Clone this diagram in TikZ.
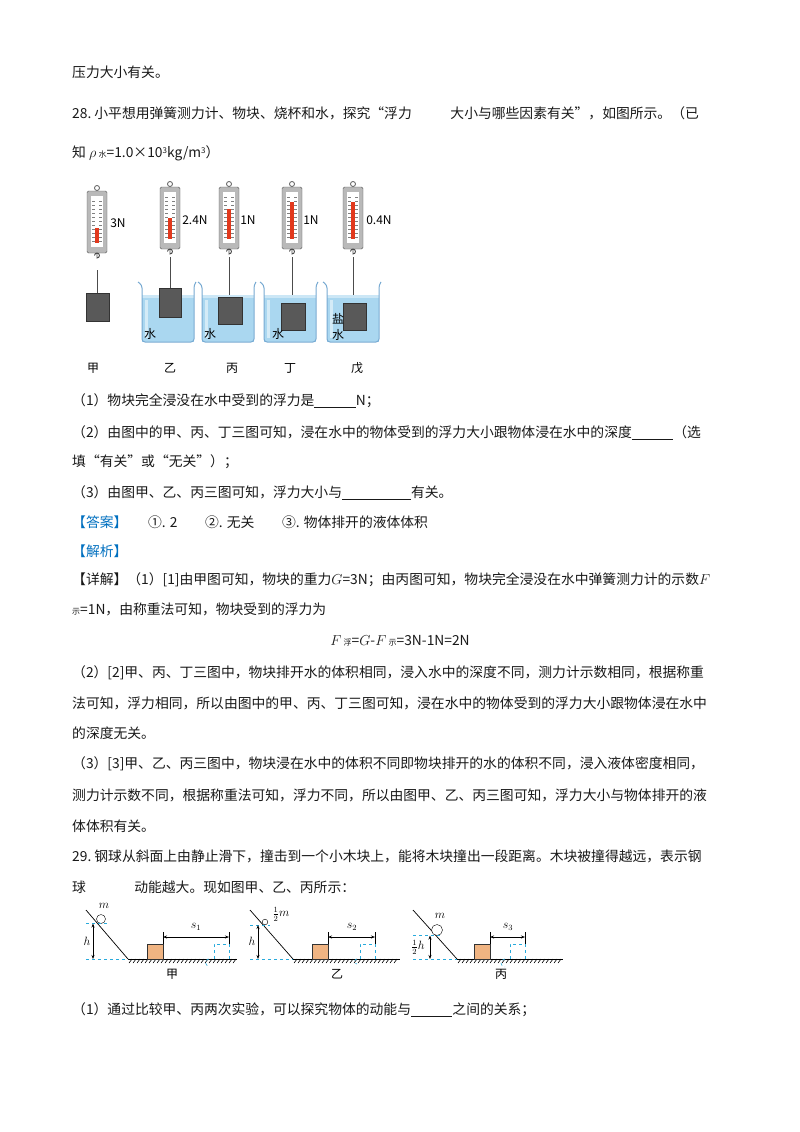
\documentclass[tikz,border=0pt]{standalone}
\usepackage{fontspec}
\setmainfont{Noto Sans CJK SC}
\usetikzlibrary{arrows.meta}
\definecolor{ansblue}{RGB}{0,112,192}
\definecolor{water}{RGB}{170,215,240}
\definecolor{glass}{RGB}{120,170,210}
\definecolor{wood}{RGB}{240,180,130}
\definecolor{dashcyan}{RGB}{40,170,220}
\tikzset{
 txt/.style={anchor=west,inner sep=0pt,font=\fontsize{13.8}{14}\selectfont,text=black!90},
 lab/.style={inner sep=0pt,font=\fontsize{12}{12}\selectfont},
 blk/.style={fill=black!65,draw=black!80},
 cyan dash/.style={draw=dashcyan,dashed,line width=0.6pt},
 dim/.style={{Stealth[length=4pt]}-{Stealth[length=4pt]},line width=0.6pt},
 pics/scale/.style={code={
   \draw[gray!70!black,line width=0.8pt] (0,-3) circle (2.5);
   \draw[fill=gray!55,draw=gray!70!black,rounded corners=1.5pt] (-10,0) rectangle (10,62);
   \fill[white] (-6,5) rectangle (6,56);
   \fill[red!55!brown] (-1.6,#1) rectangle (1.6,52);
   \foreach \t in {10,14,...,52}{\draw[gray,line width=0.3pt] (-5,\t)--(-2,\t) (2,\t)--(5,\t);}
   \draw[gray!60!black,line width=0.9pt] (0,62)--(0,67) arc[start angle=90,end angle=-180,radius=2.5];
 }}
}
\begin{document}
\begin{tikzpicture}[x=1pt,y=-1pt]
\useasboundingbox (0,0) rectangle (800,1132);
\fill[white] (0,0) rectangle (800,1132);
% text
\node[txt] (t1) at (72,72) {压力大小有关。};
\node[txt] (t2) at (72,113) {28.\ 小平想用弹簧测力计、物块、烧杯和水，探究“浮力\hspace{2.8em}大小与哪些因素有关”，如图所示。（已};
\node[txt] (t3) at (72,153) {知 $\rho$\,{\fontsize{8}{8}\selectfont 水}=1.0×10{\fontsize{8}{8}\selectfont\raisebox{4pt}{3}}kg/m{\fontsize{8}{8}\selectfont\raisebox{4pt}{3}}）};
% figure 1
\pic at (97,191) {scale=37};
\node[lab] (n1) at (118,223) {3N};
\draw[black!70] (97,270)--(97,293);
\node[blk,minimum width=23pt,minimum height=28pt,inner sep=0pt] (b1) at (97.5,307) {};
\foreach \cx/\top/\lev/\by/\name/\val/\vx in {170/187/31/288/a/2.4N/195, 229/187/22/297/b/1N/248, 292/187/15/303/c/1N/311, 353/187/15/303/d/0.4N/379}{
 \pic at (\cx,\top) {scale=\lev};
 \node[lab] (v\name) at (\vx,220) {\val};
 \draw[black!70] (\cx,\top+70)--(\cx,\by);
}
\foreach \x in {140,200,262,325}{
 \fill[water!60] (\x+2,295) rectangle (\x+54,342);
 \fill[water] (\x+2,298) rectangle (\x+54,342);
}
\node[blk,minimum width=22pt,minimum height=29pt,inner sep=0pt] (b2) at (170,302.5) {};
\node[blk,minimum width=24pt,minimum height=27pt,inner sep=0pt] (b3) at (230,310.5) {};
\node[blk,minimum width=24pt,minimum height=27pt,inner sep=0pt] (b4) at (293,316.5) {};
\node[blk,minimum width=23pt,minimum height=27pt,inner sep=0pt] (b5) at (354.5,316.5) {};
\foreach \x in {140,200,262,325}{
 \draw[glass,line width=1pt,rounded corners=3pt] (\x-2,282)--(\x+2,285)--(\x+2,342)--(\x+54,342)--(\x+54,285)--(\x+56,282);
 \fill[white,opacity=0.5] (\x+5,300) rectangle (\x+8,338);
}
\node[lab] (w1) at (150,334) {水};
\node[lab] (w2) at (210,334) {水};
\node[lab] (w3) at (278,334) {水};
\node[lab] (w4) at (338,319) {盐};
\node[lab] (w5) at (338,335) {水};
\foreach \x/\s/\n in {93/甲/p, 170/乙/q, 232/丙/r, 290/丁/s, 357/戊/u}{\node[lab] (L\n) at (\x,368) {\s};}
% questions
\node[txt] (q1) at (72,401) {（1）物块完全浸没在水中受到的浮力是\underline{\hspace{3em}}N；};
\node[txt] (q2) at (72,433) {（2）由图中的甲、丙、丁三图可知，浸在水中的物体受到的浮力大小跟物体浸在水中的深度\underline{\hspace{3em}}（选};
\node[txt] (q3) at (72,462) {填“有关”或“无关”）；};
\node[txt] (q4) at (72,493) {（3）由图甲、乙、丙三图可知，浮力大小与\underline{\hspace{5em}}有关。};
\node[txt] (a1) at (72,522) {\textcolor{ansblue}{【答案】}\hspace{1.5em}①. 2\hspace{2em}②. 无关\hspace{2em}③. 物体排开的液体体积};
\node[txt,text=ansblue] (a2) at (72,551) {【解析】};
\node[txt] (d1) at (72,580) {【详解】（1）[1]由甲图可知，物块的重力$G$=3N；由丙图可知，物块完全浸没在水中弹簧测力计的示数$F$};
\node[txt] (d2) at (72,609) {{\fontsize{8}{8}\selectfont 示}=1N，由称重法可知，物块受到的浮力为};
\node[txt,anchor=center] (d3) at (400,641) {$F$\,{\fontsize{8}{8}\selectfont 浮}=$G$-$F$\,{\fontsize{8}{8}\selectfont 示}=3N-1N=2N};
\node[txt] (d4) at (72,673) {（2）[2]甲、丙、丁三图中，物块排开水的体积相同，浸入水中的深度不同，测力计示数相同，根据称重};
\node[txt] (d5) at (72,703) {法可知，浮力相同，所以由图中的甲、丙、丁三图可知，浸在水中的物体受到的浮力大小跟物体浸在水中};
\node[txt] (d6) at (72,733) {的深度无关。};
\node[txt] (d7) at (72,764) {（3）[3]甲、乙、丙三图中，物块浸在水中的体积不同即物块排开的水的体积不同，浸入液体密度相同，};
\node[txt] (d8) at (72,795) {测力计示数不同，根据称重法可知，浮力不同，所以由图甲、乙、丙三图可知，浮力大小与物体排开的液};
\node[txt] (d9) at (72,826) {体体积有关。};
\node[txt] (e1) at (72,856) {29.\ 钢球从斜面上由静止滑下，撞击到一个小木块上，能将木块撞出一段距离。木块被撞得越远，表示钢};
\node[txt] (e2) at (72,887) {球\hspace{3.5em}动能越大。现如图甲、乙、丙所示：};
% figure 2
\foreach \sx/\ex/\ge/\bl/\se/\lab/\n in {86/128/237/147/229/甲/x, 250/293/400/312/375/乙/y, 413/457/563/474/525/丙/z}{
 \draw[line width=0.7pt] (\sx,910)--(\ex,959);
 \draw[line width=0.7pt] (\ex,959)--(\ge,959);
 \pgfmathtruncatemacro{\nh}{(\ge-\ex)/4}
 \foreach \k in {1,...,\nh}{\draw[line width=0.6pt,black] (\ex+4*\k,959)--++(-3,4);}
 \draw[cyan dash] (\sx,959)--(\ex,959);
 \draw[fill=wood,draw=black!80] (\bl,944) rectangle (\bl+16,959);
 \draw[cyan dash] (\se-15,959)--(\se-15,944)--(\se,944);
 \draw[line width=0.6pt] (\bl+16,944)--(\bl+16,932) (\se,932)--(\se,944);
 \draw[cyan dash] (\se,944)--(\se,959);
 \draw[dim] (\bl+16,937)--(\se,937);
 \node[lab] (g\n) at (\ex+44,974) {\lab};
}
\draw[cyan dash] (209,959) arc[start angle=-90,end angle=-270,radius=3.5];
\draw[cyan dash] (357,959) arc[start angle=-90,end angle=-270,radius=2.5];
\draw[cyan dash] (505,959) arc[start angle=-90,end angle=-270,radius=4];
% ball 1
\draw[fill=white] (101,919) circle (4.5);
\node[lab] (m1) at (104,906) {$m$};
\draw[cyan dash] (86,923.5)--(108,923.5);
\draw[dim] (93,923.5)--(93,959);
\node[lab] (h1) at (87,941) {$h$};
\node[lab] (s1) at (196,927) {$s_1$};
% ball 2
\draw[fill=white] (265,922) circle (2.8);
\node[lab] (m2) at (281,914) {$\frac{1}{2}m$};
\draw[cyan dash] (250,925)--(270,925);
\draw[dim] (258,925)--(258,959);
\node[lab] (h2) at (252,941) {$h$};
\node[lab] (s2) at (352,927) {$s_2$};
% ball 3
\draw[fill=white] (437,930) circle (5.5);
\node[lab] (m3) at (440,916) {$m$};
\draw[cyan dash] (413,935.5)--(442,935.5);
\draw[dim] (430,935.5)--(430,959);
\node[lab] (h3) at (418,947) {$\frac{1}{2}h$};
\node[lab] (s3) at (508,927) {$s_3$};
\node[txt] (f1) at (72,1010) {（1）通过比较甲、丙两次实验，可以探究物体的动能与\underline{\hspace{3em}}之间的关系；};
\end{tikzpicture}
\end{document}
